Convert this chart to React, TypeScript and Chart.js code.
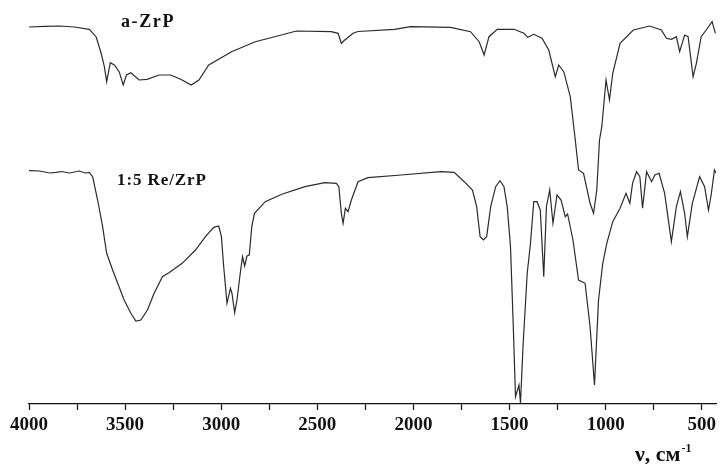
import React, { useEffect, useRef } from "react";
import { Chart, registerables } from "chart.js";

Chart.register(...registerables);

// a-ZrP spectrum: wavenumber (cm^-1) and transmittance (arbitrary units)
const zrpWavenumber = [4000, 3919, 3841, 3763, 3686, 3651, 3625, 3608, 3596, 3577, 3556, 3531, 3510, 3493, 3470, 3427, 3386, 3323, 3263, 3211, 3156, 3116, 3065, 2946, 2823, 2687, 2609, 2428, 2392, 2375, 2357, 2314, 2288, 2098, 2014, 1807, 1703, 1658, 1632, 1607, 1564, 1477, 1425, 1405, 1374, 1331, 1296, 1262, 1244, 1218, 1184, 1158, 1141, 1115, 1081, 1063, 1046, 1032, 1020, 998, 980, 963, 925, 856, 770, 710, 684, 658, 632, 615, 589, 571, 545, 528, 503, 477, 446, 429];
const zrpTransmittance = [376, 376.7, 377, 376, 373.7, 366.3, 350, 336.3, 321.3, 340.3, 338, 331.3, 318, 328, 330.3, 323, 323.7, 328, 328, 323.7, 318, 323, 338, 351.3, 361.3, 368, 372, 371.3, 369.7, 359.7, 363, 369.7, 371.5, 373.7, 376.3, 375.7, 371.3, 361.3, 348, 366.3, 373.7, 373.7, 369.7, 365.7, 368.7, 364.7, 353, 326.3, 338, 331.3, 306.3, 263, 233, 229.7, 199.7, 189.7, 213, 263, 276.3, 323, 303, 329.7, 359.7, 373, 377, 373, 364.7, 363.7, 366.3, 351.3, 368, 366.3, 326.3, 339.7, 366.3, 373, 381.3, 369.7];

// 1:5 Re/ZrP spectrum
const reZrpWavenumber = [4000, 3945, 3893, 3858, 3831, 3789, 3738, 3707, 3686, 3669, 3643, 3617, 3596, 3565, 3505, 3470, 3444, 3418, 3384, 3349, 3306, 3272, 3203, 3134, 3082, 3039, 3013, 2999, 2987, 2970, 2952, 2944, 2930, 2918, 2901, 2889, 2878, 2866, 2854, 2841, 2827, 2771, 2685, 2564, 2461, 2401, 2388, 2375, 2366, 2354, 2340, 2323, 2288, 2237, 2064, 1857, 1788, 1736, 1693, 1671, 1653, 1636, 1619, 1598, 1572, 1550, 1529, 1512, 1495, 1481, 1469, 1451, 1443, 1429, 1408, 1391, 1374, 1357, 1340, 1322, 1308, 1291, 1274, 1253, 1232, 1210, 1198, 1170, 1141, 1107, 1081, 1058, 1037, 1015, 994, 963, 925, 894, 874, 860, 839, 822, 808, 787, 761, 744, 722, 693, 658, 632, 611, 589, 575, 549, 511, 485, 465, 451, 434, 425];
const reZrpTransmittance = [232.3, 232, 230, 230.7, 231.5, 230, 232, 230, 230.7, 226.3, 203, 176.3, 149.7, 133, 103, 89.7, 82, 83, 93, 109.7, 126.3, 130.3, 139.7, 153, 166.3, 175.7, 177, 166.3, 136.3, 99.7, 114.7, 109.7, 90.3, 103, 129.7, 146.3, 137, 147, 148, 176.3, 189.7, 201.3, 208.7, 216.3, 220.3, 219.7, 216.3, 189.7, 179.7, 194.7, 191.3, 203, 221.3, 225.3, 228, 231.3, 230.7, 221.3, 213, 196.3, 166.3, 163, 166.3, 196.3, 216.3, 222.3, 216.3, 196.3, 156.3, 79.7, 6.3, 18, 0, 59.7, 129.7, 159.7, 201.3, 201.3, 193, 126.3, 196.3, 213, 179.7, 208, 203, 186.3, 189, 163, 123, 119.7, 76.3, 18, 103, 139.7, 159.7, 181.3, 194.7, 209.7, 199.7, 219.7, 231.3, 226.3, 194.7, 231.3, 221.3, 228, 229.7, 209.7, 161.3, 196.3, 211.3, 189.7, 166.3, 199.7, 226.3, 216.3, 193, 208, 233, 229.7];

const xTickValues = [4000, 3750, 3500, 3250, 3000, 2750, 2500, 2250, 2000, 1750, 1500, 1250, 1000, 750, 500];
const seriesLabels = ["a-ZrP", "1:5 Re/ZrP"];
const axisTitle = "ν, см";
const axisTitleSup = "-1";

const toPoints = (xs: number[], ys: number[]) => xs.map((x, i) => ({ x, y: ys[i] }));

const SERIF = "'Liberation Serif', 'Times New Roman', serif";

const textPlugin = {
  id: "spectrumText",
  afterDraw(chart: any) {
    const ctx = chart.ctx as CanvasRenderingContext2D;
    ctx.save();
    ctx.fillStyle = "#111";
    ctx.textBaseline = "alphabetic";
    ctx.textAlign = "left";
    ctx.font = `bold 18px ${SERIF}`;
    (ctx as any).letterSpacing = "1.6px";
    ctx.fillText(seriesLabels[0], 121, 27);
    ctx.font = `bold 17px ${SERIF}`;
    (ctx as any).letterSpacing = "0.9px";
    ctx.fillText(seriesLabels[1], 117, 185);
    (ctx as any).letterSpacing = "0px";
    ctx.font = `bold 22px ${SERIF}`;
    ctx.fillText(axisTitle, 635, 461);
    const w = ctx.measureText(axisTitle).width;
    ctx.font = `bold 12px ${SERIF}`;
    ctx.fillText(axisTitleSup, 635 + w + 1, 452);
    ctx.restore();
  },
};

export default function App() {
  const canvasRef = useRef<HTMLCanvasElement | null>(null);

  useEffect(() => {
    if (!canvasRef.current) return;
    const lineStyle = {
      borderColor: "#2a2a2a",
      borderWidth: 1.2,
      pointRadius: 0,
      tension: 0,
      fill: false,
    };
    const chart = new Chart(canvasRef.current, {
      type: "line",
      data: {
        datasets: [
          { label: seriesLabels[0], data: toPoints(zrpWavenumber, zrpTransmittance), ...lineStyle },
          { label: seriesLabels[1], data: toPoints(reZrpWavenumber, reZrpTransmittance), ...lineStyle },
        ],
      },
      options: {
        animation: false,
        responsive: false,
        maintainAspectRatio: false,
        layout: { padding: { left: 29, right: 0, top: 0, bottom: 0 } },
        plugins: { legend: { display: false }, tooltip: { enabled: false } },
        scales: {
          x: {
            type: "linear",
            reverse: true,
            min: 425,
            max: 4000,
            afterBuildTicks: (scale: any) => {
              scale.ticks = xTickValues.map((v) => ({ value: v }));
            },
            afterFit: (scale: any) => {
              scale.height = 60;
            },
            border: { display: true, color: "#111", width: 1.2 },
            grid: { display: true, drawOnChartArea: false, drawTicks: true, tickLength: 6, color: "#111", tickWidth: 1.2 },
            ticks: {
              autoSkip: false,
              maxRotation: 0,
              padding: 4,
              color: "#111",
              font: { family: SERIF, size: 19, weight: "bold" },
              callback: (value: any) => (Number(value) % 500 === 0 ? String(value) : ""),
            },
          },
          y: {
            display: false,
            min: -1,
            max: 403,
          },
        },
      },
      plugins: [textPlugin],
    });
    return () => chart.destroy();
  }, []);

  return (
    <div style={{ position: "fixed", left: 0, top: 0, width: 720, height: 464, background: "#fff" }}>
      <canvas ref={canvasRef} width={720} height={464} style={{ width: 720, height: 464 }} />
    </div>
  );
}
